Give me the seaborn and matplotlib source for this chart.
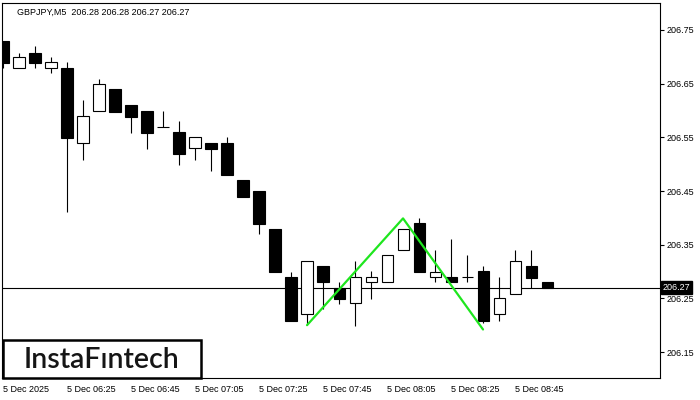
import matplotlib
matplotlib.use("Agg")
import numpy as np
import pandas as pd
import matplotlib.pyplot as plt
import seaborn as sns
from matplotlib.patches import Rectangle
from matplotlib.transforms import blended_transform_factory

# --- data (GBPJPY M5) ---
times = ["06:05", "06:10", "06:15", "06:20", "06:25", "06:30", "06:35", "06:40", "06:45",
         "06:50", "06:55", "07:00", "07:05", "07:10", "07:15", "07:20", "07:25", "07:30",
         "07:35", "07:40", "07:45", "07:50", "07:55", "08:00", "08:05", "08:10", "08:15",
         "08:20", "08:25", "08:30", "08:35", "08:40", "08:45", "08:50", "08:55"]
opens = [206.730, 206.679, 206.708, 206.679, 206.679, 206.539, 206.599, 206.640, 206.610,
         206.599, 206.569, 206.560, 206.530, 206.539, 206.539, 206.470, 206.450, 206.379,
         206.289, 206.220, 206.310, 206.270, 206.241, 206.280, 206.280, 206.340, 206.390,
         206.289, 206.289, 206.289, 206.301, 206.220, 206.259, 206.310, 206.280]
highs = [206.730, 206.708, 206.720, 206.699, 206.690, 206.620, 206.659, 206.640, 206.610,
         206.599, 206.599, 206.580, 206.550, 206.539, 206.550, 206.470, 206.450, 206.379,
         206.300, 206.319, 206.310, 206.280, 206.320, 206.301, 206.330, 206.379, 206.399,
         206.340, 206.360, 206.330, 206.310, 206.289, 206.340, 206.340, 206.280]
lows = [206.679, 206.679, 206.679, 206.669, 206.410, 206.508, 206.599, 206.598, 206.559,
        206.529, 206.569, 206.499, 206.508, 206.488, 206.479, 206.439, 206.369, 206.300,
        206.208, 206.200, 206.230, 206.240, 206.199, 206.249, 206.280, 206.340, 206.300,
        206.280, 206.280, 206.280, 206.205, 206.208, 206.259, 206.270, 206.270]
closes = [206.689, 206.699, 206.689, 206.690, 206.549, 206.589, 206.649, 206.598, 206.588,
          206.559, 206.569, 206.519, 206.550, 206.529, 206.479, 206.439, 206.389, 206.300,
          206.208, 206.319, 206.280, 206.249, 206.289, 206.289, 206.330, 206.379, 206.300,
          206.300, 206.280, 206.289, 206.208, 206.250, 206.319, 206.288, 206.270]

last_price = 206.27
pattern_bars = [19, 25, 30]
pattern_prices = [206.200, 206.399, 206.192]

ytick_values = [206.15, 206.25, 206.35, 206.45, 206.55, 206.65, 206.75]
xtick_bars = [0, 4, 8, 12, 16, 20, 24, 28, 32]
xtick_labels = ["5 Dec 2025", "5 Dec 06:25", "5 Dec 06:45", "5 Dec 07:05", "5 Dec 07:25",
                "5 Dec 07:45", "5 Dec 08:05", "5 Dec 08:25", "5 Dec 08:45"]

df = pd.DataFrame({"time": times, "open": opens, "high": highs, "low": lows, "close": closes})
df["x"] = np.arange(len(df))

sns.set_style("white")
plt.rcParams["font.family"] = ["Liberation Sans", "DejaVu Sans"]

fig = plt.figure(figsize=(7, 4), dpi=100)
ax = fig.add_axes([2 / 700, 22 / 400, 658 / 700, 375 / 400])

# bid line
ax.axhline(last_price, color="black", lw=0.8, zorder=1)

# wicks
ax.vlines(df["x"], df["low"], df["high"], color="black", lw=0.8, zorder=2)

# bodies
bw = 0.69
up = df[df["close"] > df["open"]]
down = df[df["close"] < df["open"]]
doji = df[df["close"] == df["open"]]
ax.bar(up["x"], up["close"] - up["open"], bottom=up["open"], width=bw,
       color="white", edgecolor="black", lw=0.8, zorder=3)
ax.bar(down["x"], down["open"] - down["close"], bottom=down["close"], width=bw,
       color="black", edgecolor="black", lw=0.8, zorder=3)
ax.hlines(doji["close"], doji["x"] - bw / 2, doji["x"] + bw / 2, color="black", lw=0.8, zorder=3)

# double bottom pattern
sns.lineplot(x=pattern_bars, y=pattern_prices, color="#1ee61e", lw=1.6, sort=False,
             ax=ax, zorder=5)

ax.set_xlim(-0.0625, 41.06)
ax.set_ylim(206.1016, 206.8003)

ax.set_xticks(xtick_bars)
ax.set_xticklabels(xtick_labels)
for lbl in ax.get_xticklabels():
    lbl.set_ha("left")
ax.set_yticks(ytick_values)
ax.set_yticklabels([f"{v:.2f}" for v in ytick_values])
ax.yaxis.tick_right()
ax.tick_params(axis="x", length=4, width=0.8, pad=1, labelsize=6.5, colors="black")
ax.tick_params(axis="y", length=3, width=0.8, pad=2, labelsize=6.5, colors="black")
ax.set_xlabel("")
ax.set_ylabel("")
for s in ax.spines.values():
    s.set_color("black")
    s.set_linewidth(0.8)

# price tag on the right axis
tr = blended_transform_factory(ax.transAxes, ax.transData)
ax.text(1.004, last_price, f"{last_price:.2f}", transform=tr, color="white", fontsize=6.5,
        ha="left", va="center", clip_on=False,
        bbox=dict(boxstyle="square,pad=0.18", fc="black", ec="black"))

# header
fig.text(17 / 700, 1 - 12 / 400, "GBPJPY,M5  206.28 206.28 206.27 206.27",
         fontsize=6.5, ha="left", va="center", color="black")

# logo
fig.add_artist(Rectangle((3 / 700, 22 / 400), 198 / 700, 38 / 400, transform=fig.transFigure,
                         facecolor="white", edgecolor="black", lw=1.8, zorder=10))
fig.text(102 / 700, (400 - 368) / 400, "InstaFıntech", fontsize=20.5, fontweight="semibold",
         family=["Lato", "DejaVu Sans"], ha="center", va="baseline", color="#151515", zorder=11)

fig.savefig("out.png", dpi=100)
